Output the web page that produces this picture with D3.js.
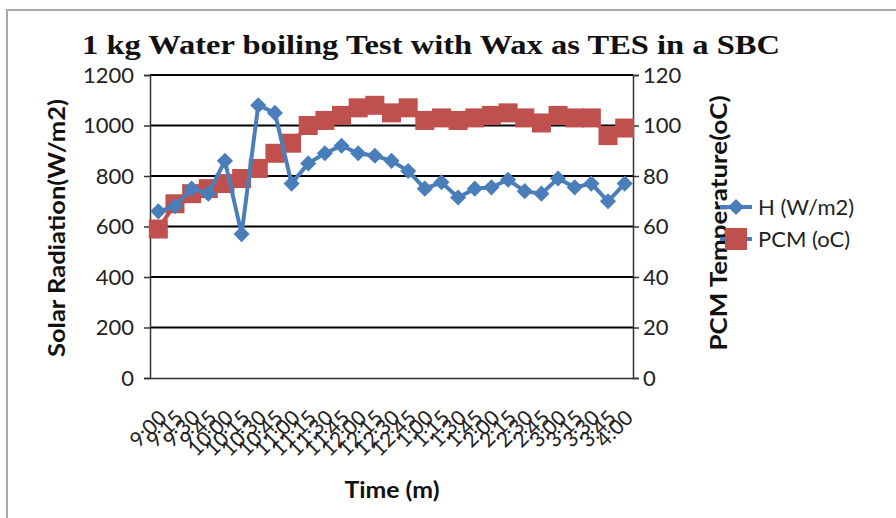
<!DOCTYPE html>
<html><head><meta charset="utf-8">
<script src="https://cdn.jsdelivr.net/npm/d3@7/dist/d3.min.js"></script>
<style>body{margin:0;background:#fff}svg{display:block}</style>
</head><body>
<svg id="c" width="896" height="518"></svg>
<script>
const times = ["9:00","9:15","9:30","9:45","10:00","10:15","10:30","10:45","11:00","11:15","11:30","11:45","12:00","12:15","12:30","12:45","1:00","1:15","1:30","1:45","2:00","2:15","2:30","2:45","3:00","3:15","3:30","3:45","4:00"];
const solarH = [660,680,750,730,860,570,1080,1050,770,850,890,920,890,880,860,820,750,775,715,750,755,785,740,730,790,755,770,700,770];
const pcmTemp = [59,69,73,75,77,79,83,89,93,100,102,104,107,108,105,107,102,103,102,103,104,105,103,101,104,103,103,96,99];
const leftTicks = [0,200,400,600,800,1000,1200];
const rightTicks = [0,20,40,60,80,100,120];

const svg = d3.select("#c");
const L = 150, R = 633, T = 75, B = 378;
const blue = "#4A7EBB", red = "#C0504D";

svg.append("rect").attr("x",7).attr("y",10).attr("width",900).attr("height",520)
  .attr("fill","none").attr("stroke","#a8a8a8").attr("stroke-width",2);

const x = d3.scalePoint().domain(times).range([L,R]).padding(0.5);
const yL = d3.scaleLinear().domain([0,1200]).range([B,T]);
const yR = d3.scaleLinear().domain([0,120]).range([B,T]);
const font = "Lato, Open Sans, sans-serif";

svg.append("g").selectAll("line").data(leftTicks.filter(d=>d>0)).join("line")
  .attr("x1",L).attr("x2",R).attr("y1",d=>yL(d)).attr("y2",d=>yL(d))
  .attr("stroke","#000").attr("stroke-width",2);

const gl = svg.append("g").attr("transform",`translate(${L},0)`)
  .call(d3.axisLeft(yL).tickValues(leftTicks).tickSize(6).tickPadding(10).tickFormat(d3.format("d")));
gl.select(".domain").attr("stroke","#333").attr("stroke-width",1.5);
gl.selectAll(".tick line").attr("stroke","#333").attr("stroke-width",1.5);
gl.selectAll("text").attr("font-family",font).attr("font-size",22).attr("fill","#222");

const gr = svg.append("g").attr("transform",`translate(${R},0)`)
  .call(d3.axisRight(yR).tickValues(rightTicks).tickSize(6).tickPadding(4).tickFormat(d3.format("d")));
gr.select(".domain").attr("stroke","#333").attr("stroke-width",1.5);
gr.selectAll(".tick line").attr("stroke","#333").attr("stroke-width",1.5);
gr.selectAll("text").attr("font-family",font).attr("font-size",22).attr("fill","#222");

const gb = svg.append("g").attr("transform",`translate(0,${B})`)
  .call(d3.axisBottom(x).tickSize(0).tickPadding(0));
gb.select(".domain").attr("stroke","#333").attr("stroke-width",1.5);
gb.selectAll("text").attr("font-family",font).attr("font-size",21).attr("fill","#222")
  .attr("text-anchor","end").attr("y",0).attr("dy","0.35em")
  .attr("transform","translate(4,36) rotate(-45)");

svg.append("path").datum(pcmTemp).attr("fill","none").attr("stroke",red).attr("stroke-width",4)
  .attr("d",d3.line().x((d,i)=>x(times[i])).y(d=>yR(d)));
svg.append("g").selectAll("rect").data(pcmTemp).join("rect")
  .attr("x",(d,i)=>x(times[i])-9.5).attr("y",d=>yR(d)-9.5).attr("width",19).attr("height",19)
  .attr("fill",red);

svg.append("path").datum(solarH).attr("fill","none").attr("stroke",blue).attr("stroke-width",4)
  .attr("d",d3.line().x((d,i)=>x(times[i])).y(d=>yL(d)));
const dia = d3.symbol().type(d3.symbolSquare).size(130);
svg.append("g").selectAll("path").data(solarH).join("path")
  .attr("d",dia).attr("transform",(d,i)=>`translate(${x(times[i])},${yL(d)}) rotate(45)`)
  .attr("fill",blue);

svg.append("text").attr("x",82).attr("y",54)
  .attr("font-family","Liberation Serif, serif").attr("font-weight","bold").attr("font-size",28)
  .attr("textLength",698).attr("lengthAdjust","spacingAndGlyphs")
  .attr("fill","#111").text("1 kg Water boiling Test with Wax as TES in a SBC");

svg.append("text").attr("transform","translate(65,228) rotate(-90)").attr("text-anchor","middle")
  .attr("font-family",font).attr("font-weight","bold").attr("font-size",23)
  .attr("textLength",258).attr("lengthAdjust","spacingAndGlyphs").attr("fill","#111")
  .text("Solar Radiation(W/m2)");
svg.append("text").attr("transform","translate(727,223) rotate(-90)").attr("text-anchor","middle")
  .attr("font-family",font).attr("font-weight","bold").attr("font-size",23)
  .attr("textLength",255).attr("lengthAdjust","spacingAndGlyphs").attr("fill","#111")
  .text("PCM Temperature(oC)");
svg.append("text").attr("x",392).attr("y",498).attr("text-anchor","middle")
  .attr("font-family",font).attr("font-weight","bold").attr("font-size",22)
  .attr("textLength",95).attr("lengthAdjust","spacingAndGlyphs").attr("fill","#111")
  .text("Time (m)");

const legend = [{name:"H (W/m2)", color:blue, shape:"diamond", y:207},{name:"PCM (oC)", color:red, shape:"square", y:239}];
const lg = svg.append("g");
legend.forEach(l=>{
  lg.append("line").attr("x1",720).attr("x2",752).attr("y1",l.y).attr("y2",l.y)
    .attr("stroke",blue).attr("stroke-width",4);
  if(l.shape==="diamond"){
    lg.append("path").attr("d",dia).attr("transform",`translate(736,${l.y}) rotate(45)`).attr("fill",l.color);
  } else {
    lg.append("rect").attr("x",725).attr("y",l.y-11).attr("width",22).attr("height",22).attr("fill",l.color);
  }
  lg.append("text").attr("x",758).attr("y",l.y+8).attr("font-family",font).attr("font-size",22)
    .attr("fill","#222").text(l.name);
});
</script>
</body></html>
